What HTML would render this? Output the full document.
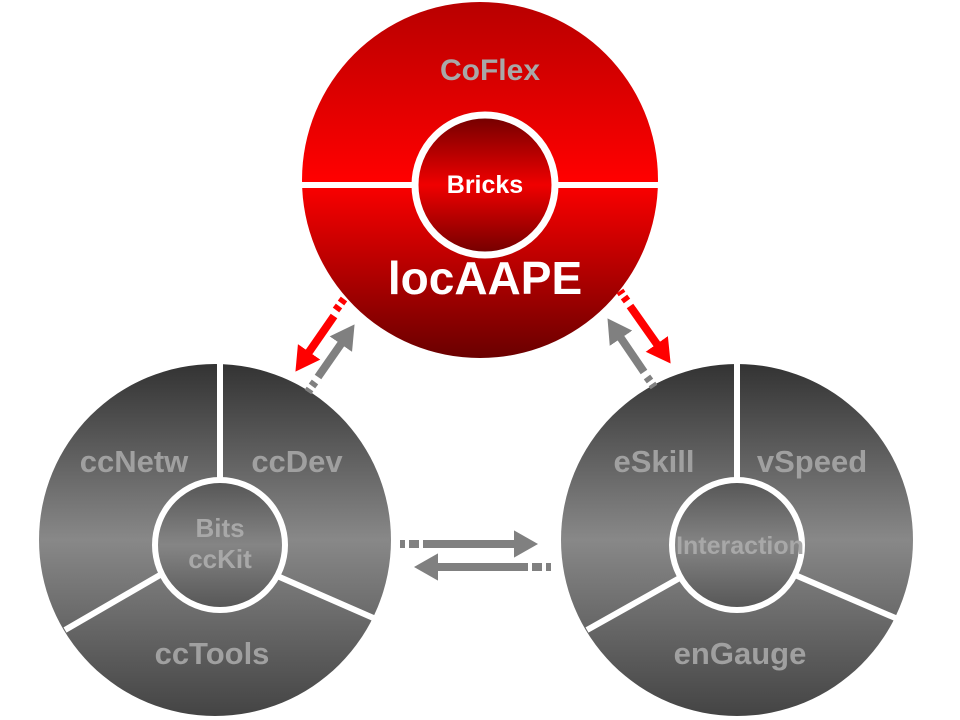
<!DOCTYPE html>
<html><head><style>body{margin:0;background:#fff}svg{display:block}</style></head><body>
<svg width="960" height="720" viewBox="0 0 960 720" font-family="Liberation Sans, sans-serif" font-weight="bold">
<defs>
<linearGradient id="rg" x1="0" y1="0" x2="0" y2="1">
<stop offset="0" stop-color="#b80000"/><stop offset="0.5" stop-color="#ff0000"/><stop offset="1" stop-color="#6a0000"/></linearGradient>
<linearGradient id="ri" x1="0" y1="0" x2="0" y2="1">
<stop offset="0" stop-color="#700000"/><stop offset="0.5" stop-color="#f00000"/><stop offset="1" stop-color="#700000"/></linearGradient>
<linearGradient id="gg" x1="0" y1="0" x2="0" y2="1">
<stop offset="0" stop-color="#333"/><stop offset="0.5" stop-color="#888"/><stop offset="1" stop-color="#444"/></linearGradient>
<linearGradient id="gi" x1="0" y1="0" x2="0" y2="1">
<stop offset="0" stop-color="#555"/><stop offset="0.5" stop-color="#858585"/><stop offset="1" stop-color="#555"/></linearGradient>
<marker id="ar" markerWidth="4" markerHeight="4" refX="2" refY="2" orient="auto" markerUnits="strokeWidth"><path d="M0,0.3 L3,2 L0,3.7z" fill="red"/></marker>
<marker id="ag" markerWidth="4" markerHeight="4" refX="2" refY="2" orient="auto" markerUnits="strokeWidth"><path d="M0,0.3 L3,2 L0,3.7z" fill="#808080"/></marker>
</defs>
<!-- top -->
<circle cx="480" cy="180" r="178" fill="url(#rg)"/>
<line x1="300" y1="185" x2="660" y2="185" stroke="#fff" stroke-width="6"/>
<circle cx="485" cy="185" r="70" fill="url(#ri)" stroke="#fff" stroke-width="7"/>
<text x="490" y="80" font-size="30" fill="#a8a8a8" text-anchor="middle">CoFlex</text>
<text x="485" y="193" font-size="25" fill="#fff" text-anchor="middle">Bricks</text>
<text x="485" y="294" font-size="46" fill="#fff" text-anchor="middle">locAAPE</text>
<!-- left -->
<circle cx="215" cy="540" r="176" fill="url(#gg)"/>
<g stroke="#fff" stroke-width="6"><line x1="220" y1="360" x2="220" y2="480"/><line x1="160" y1="575" x2="65" y2="630"/><line x1="275" y1="575" x2="378" y2="620"/></g>
<circle cx="220" cy="545" r="65" fill="url(#gi)" stroke="#fff" stroke-width="6"/>
<g font-size="31" fill="#a0a0a0" text-anchor="middle">
<text x="134" y="472">ccNetw</text><text x="297" y="472">ccDev</text><text x="212" y="664">ccTools</text></g>
<g font-size="26" fill="#a8a8a8" text-anchor="middle"><text x="220" y="537">Bits</text><text x="220" y="568">ccKit</text></g>
<!-- right -->
<circle cx="737" cy="540" r="176" fill="url(#gg)"/>
<g stroke="#fff" stroke-width="6"><line x1="737" y1="360" x2="737" y2="480"/><line x1="685" y1="575" x2="587" y2="630"/><line x1="795" y1="575" x2="900" y2="620"/></g>
<circle cx="737" cy="545" r="65" fill="url(#gi)" stroke="#fff" stroke-width="6"/>
<g font-size="31" fill="#a0a0a0" text-anchor="middle">
<text x="654" y="472">eSkill</text><text x="812" y="472">vSpeed</text><text x="740" y="664">enGauge</text></g>
<text x="740" y="554" font-size="25" fill="#a8a8a8" text-anchor="middle">Interaction</text>
<!-- arrows -->
<g stroke-width="8">
<line x1="334" y1="316" x2="300" y2="365" stroke="red" marker-end="url(#ar)"/>
<line x1="336" y1="310" x2="339" y2="306" stroke="red"/><line x1="341" y1="303" x2="344" y2="299" stroke="red"/>
<line x1="318" y1="377" x2="350" y2="331" stroke="#808080" marker-end="url(#ag)"/>
<line x1="315" y1="382" x2="312" y2="386" stroke="#808080"/><line x1="310" y1="389" x2="308" y2="392" stroke="#808080"/>
<line x1="630" y1="306" x2="666" y2="357" stroke="red" marker-end="url(#ar)"/>
<line x1="627" y1="301" x2="624" y2="297" stroke="red"/><line x1="622" y1="294" x2="620" y2="291" stroke="red"/>
<line x1="644" y1="372" x2="612" y2="325" stroke="#808080" marker-end="url(#ag)"/>
<line x1="647" y1="377" x2="650" y2="381" stroke="#808080"/><line x1="652" y1="384" x2="654" y2="387" stroke="#808080"/>
<line x1="423" y1="544" x2="530" y2="544" stroke="#808080" marker-end="url(#ag)"/>
<line x1="400" y1="544" x2="405" y2="544" stroke="#808080"/><line x1="409" y1="544" x2="419" y2="544" stroke="#808080"/>
<line x1="528" y1="567" x2="422" y2="567" stroke="#808080" marker-end="url(#ag)"/>
<line x1="532" y1="567" x2="542" y2="567" stroke="#808080"/><line x1="546" y1="567" x2="551" y2="567" stroke="#808080"/>
</g>
</svg>
</body></html>
